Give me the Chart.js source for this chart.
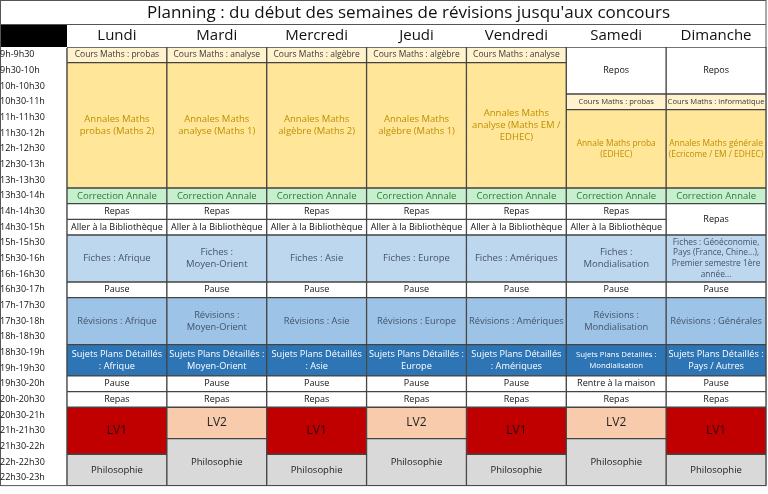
<!DOCTYPE html>
<html><head><meta charset="utf-8">
<script src="https://cdn.jsdelivr.net/npm/chart.js@4.4.0/dist/chart.umd.min.js"></script>
<style>html,body{margin:0;background:#fff;overflow:hidden}#w{width:768px;height:494px}</style>
</head><body><div id="w"><canvas id="c"></canvas></div>
<script>
const titleText = "Planning : du début des semaines de révisions jusqu'aux concours";
const days = ["Lundi","Mardi","Mercredi","Jeudi","Vendredi","Samedi","Dimanche"];
const slots = ["9h-9h30","9h30-10h","10h-10h30","10h30-11h","11h-11h30","11h30-12h","12h-12h30","12h30-13h","13h-13h30","13h30-14h","14h-14h30","14h30-15h","15h-15h30","15h30-16h","16h-16h30","16h30-17h","17h-17h30","17h30-18h","18h-18h30","18h30-19h","19h-19h30","19h30-20h","20h-20h30","20h30-21h","21h-21h30","21h30-22h","22h-22h30","22h30-23h"];
// cells: [day, startSlot, endSlot, kind, label]
const cells = [
 ["Lundi",0,1,"cours","Cours Maths : probas"],
 ["Lundi",1,9,"annales","Annales Maths\nprobas (Maths 2)"],
 ["Mardi",0,1,"cours","Cours Maths : analyse"],
 ["Mardi",1,9,"annales","Annales Maths\nanalyse (Maths 1)"],
 ["Mercredi",0,1,"cours","Cours Maths : algèbre"],
 ["Mercredi",1,9,"annales","Annales Maths\nalgèbre (Maths 2)"],
 ["Jeudi",0,1,"cours","Cours Maths : algèbre"],
 ["Jeudi",1,9,"annales","Annales Maths\nalgèbre (Maths 1)"],
 ["Vendredi",0,1,"cours","Cours Maths : analyse"],
 ["Vendredi",1,9,"annales","Annales Maths\nanalyse (Maths EM /\nEDHEC)"],
 ["Samedi",0,3,"white","Repos"],
 ["Samedi",3,4,"coursS","Cours Maths : probas"],
 ["Samedi",4,9,"annalesS","Annale Maths proba\n(EDHEC)"],
 ["Dimanche",0,3,"white","Repos"],
 ["Dimanche",3,4,"coursS","Cours Maths : informatique"],
 ["Dimanche",4,9,"annalesS","Annales Maths générale\n(Ecricome / EM / EDHEC)"],
 ["Lundi",9,10,"corr","Correction Annale"],["Mardi",9,10,"corr","Correction Annale"],["Mercredi",9,10,"corr","Correction Annale"],["Jeudi",9,10,"corr","Correction Annale"],["Vendredi",9,10,"corr","Correction Annale"],["Samedi",9,10,"corr","Correction Annale"],["Dimanche",9,10,"corr","Correction Annale"],
 ["Lundi",10,11,"white","Repas"],["Mardi",10,11,"white","Repas"],["Mercredi",10,11,"white","Repas"],["Jeudi",10,11,"white","Repas"],["Vendredi",10,11,"white","Repas"],["Samedi",10,11,"white","Repas"],["Dimanche",10,12,"white","Repas"],
 ["Lundi",11,12,"white","Aller à la Bibliothèque"],["Mardi",11,12,"white","Aller à la Bibliothèque"],["Mercredi",11,12,"white","Aller à la Bibliothèque"],["Jeudi",11,12,"white","Aller à la Bibliothèque"],["Vendredi",11,12,"white","Aller à la Bibliothèque"],["Samedi",11,12,"white","Aller à la Bibliothèque"],
 ["Lundi",12,15,"fiches","Fiches : Afrique"],["Mardi",12,15,"fiches","Fiches :\nMoyen-Orient"],["Mercredi",12,15,"fiches","Fiches : Asie"],["Jeudi",12,15,"fiches","Fiches : Europe"],["Vendredi",12,15,"fiches","Fiches : Amériques"],["Samedi",12,15,"fiches","Fiches :\nMondialisation"],["Dimanche",12,15,"fichesS","Fiches : Géoéconomie,\nPays (France, Chine...),\nPremier semestre 1ère\nannée..."],
 ["Lundi",15,16,"white","Pause"],["Mardi",15,16,"white","Pause"],["Mercredi",15,16,"white","Pause"],["Jeudi",15,16,"white","Pause"],["Vendredi",15,16,"white","Pause"],["Samedi",15,16,"white","Pause"],["Dimanche",15,16,"white","Pause"],
 ["Lundi",16,19,"rev","Révisions : Afrique"],["Mardi",16,19,"rev","Révisions :\nMoyen-Orient"],["Mercredi",16,19,"rev","Révisions : Asie"],["Jeudi",16,19,"rev","Révisions : Europe"],["Vendredi",16,19,"rev","Révisions : Amériques"],["Samedi",16,19,"rev","Révisions :\nMondialisation"],["Dimanche",16,19,"rev","Révisions : Générales"],
 ["Lundi",19,21,"sujets","Sujets Plans Détaillés\n: Afrique"],["Mardi",19,21,"sujets","Sujets Plans Détaillés :\nMoyen-Orient"],["Mercredi",19,21,"sujets","Sujets Plans Détaillés\n: Asie"],["Jeudi",19,21,"sujets","Sujets Plans Détaillés :\nEurope"],["Vendredi",19,21,"sujets","Sujets Plans Détaillés\n: Amériques"],["Samedi",19,21,"sujetsS","Sujets Plans Détaillés :\nMondialisation"],["Dimanche",19,21,"sujets","Sujets Plans Détaillés :\nPays / Autres"],
 ["Lundi",21,22,"white","Pause"],["Mardi",21,22,"white","Pause"],["Mercredi",21,22,"white","Pause"],["Jeudi",21,22,"white","Pause"],["Vendredi",21,22,"white","Pause"],["Samedi",21,22,"white","Rentre à la maison"],["Dimanche",21,22,"white","Pause"],
 ["Lundi",22,23,"white","Repas"],["Mardi",22,23,"white","Repas"],["Mercredi",22,23,"white","Repas"],["Jeudi",22,23,"white","Repas"],["Vendredi",22,23,"white","Repas"],["Samedi",22,23,"white","Repas"],["Dimanche",22,23,"white","Repas"],
 ["Lundi",23,26,"lv1","LV1"],["Lundi",26,28,"philo","Philosophie"],
 ["Mardi",23,25,"lv2","LV2"],["Mardi",25,28,"philo","Philosophie"],
 ["Mercredi",23,26,"lv1","LV1"],["Mercredi",26,28,"philo","Philosophie"],
 ["Jeudi",23,25,"lv2","LV2"],["Jeudi",25,28,"philo","Philosophie"],
 ["Vendredi",23,26,"lv1","LV1"],["Vendredi",26,28,"philo","Philosophie"],
 ["Samedi",23,25,"lv2","LV2"],["Samedi",25,28,"philo","Philosophie"],
 ["Dimanche",23,26,"lv1","LV1"],["Dimanche",26,28,"philo","Philosophie"]
];
const styles = {
 cours:{bg:"#FFF2CC",fg:"#3a3a3a",size:8.5},
 coursS:{bg:"#FFF2CC",fg:"#3a3a3a",size:7.6},
 annales:{bg:"#FFE699",fg:"#BF8F00",size:9.5},
 annalesS:{bg:"#FFE699",fg:"#BF8F00",size:8.4},
 corr:{bg:"#C6EFCE",fg:"#2E7D32",size:9.5},
 white:{bg:"#FFFFFF",fg:"#111111",size:9},
 fiches:{bg:"#BDD7EE",fg:"#44546A",size:9.5},
 fichesS:{bg:"#BDD7EE",fg:"#44546A",size:8.3},
 rev:{bg:"#9DC3E6",fg:"#44546A",size:9.3},
 sujets:{bg:"#2E75B6",fg:"#FFFFFF",size:9.2},
 sujetsS:{bg:"#2E75B6",fg:"#FFFFFF",size:7.8},
 lv1:{bg:"#C00000",fg:"#2a0000",size:12},
 lv2:{bg:"#F8CBAD",fg:"#222222",size:12},
 philo:{bg:"#D9D9D9",fg:"#222222",size:9.5}
};
const FONT = "'Liberation Sans Narrow','Open Sans',sans-serif";
const labelPlugin = {
 id:'labels',
 beforeDraw(chart){
  const ctx=chart.ctx, a=chart.chartArea;
  ctx.save();
  ctx.fillStyle='#000';
  ctx.fillRect(0,24,a.left,a.top-24);
  ctx.fillStyle='#111';
  ctx.font="17px 'Open Sans',sans-serif";
  ctx.textAlign='center';ctx.textBaseline='middle';
  ctx.fillText(titleText,(a.left+a.right)/2-8,13);
  ctx.strokeStyle='#555';ctx.lineWidth=1;
  ctx.strokeRect(0.5,0.5,a.right-0.5,a.bottom-0.5);
  ctx.beginPath();ctx.moveTo(0,24.5);ctx.lineTo(a.right,24.5);ctx.stroke();
  ctx.restore();
 },
 afterDatasetsDraw(chart){
  const ctx=chart.ctx, meta=chart.getDatasetMeta(0);
  ctx.save();ctx.textAlign='center';ctx.textBaseline='middle';
  meta.data.forEach((el,i)=>{
   const c=cells[i], s=styles[c[3]];
   const lines=c[4].split('\n');
   ctx.font=s.size+"px "+FONT; ctx.fillStyle=s.fg;
   const lh=s.size*1.3, cy=(el.y+el.base)/2;
   lines.forEach((t,j)=>ctx.fillText(t,el.x,cy+(j-(lines.length-1)/2)*lh));
  });
  ctx.restore();
 }
};
new Chart(document.getElementById('c'),{
 type:'bar',
 data:{labels:days,datasets:[{
  data:cells.map(c=>({x:c[0],y:[c[1],c[2]]})),
  backgroundColor:cells.map(c=>styles[c[3]].bg),
  borderColor:'#444',borderWidth:1,borderSkipped:false,
  barPercentage:1,categoryPercentage:1,grouped:false
 }]},
 options:{
  responsive:true,maintainAspectRatio:false,animation:false,
  layout:{padding:{top:24,right:2,bottom:0,left:0}},
  plugins:{legend:{display:false},tooltip:{enabled:false}},
  scales:{
   x:{position:'top',grid:{offset:true,color:'#777',drawTicks:false},border:{color:'#555'},
      ticks:{color:'#111',font:{size:15,family:"'Open Sans',sans-serif"},padding:2},
      afterFit(s){s.height=23;}},
   y:{type:'linear',min:0,max:28,reverse:true,display:false},
   t:{type:'category',labels:slots,position:'left',offset:true,
      grid:{offset:true,color:'#555',drawTicks:false},border:{color:'#555'},
      ticks:{color:'#111',font:{size:9,family:FONT},crossAlign:'far',padding:3,autoSkip:false},
      afterFit(s){s.width=67;}}
  }
 },
 plugins:[labelPlugin]
});
</script></body></html>
